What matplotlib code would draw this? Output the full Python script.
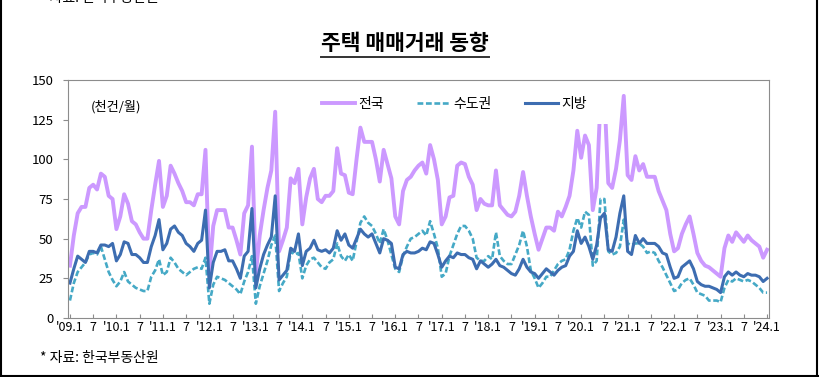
import matplotlib.pyplot as plt
from matplotlib.lines import Line2D
from matplotlib.patches import Rectangle

plt.rcParams['font.family'] = ['Noto Sans CJK KR', 'DejaVu Sans']

# monthly index: 0 = 2009.1 ... 180 = 2024.1 (thousand deals / month)
months = list(range(181))

total = [
    33, 52, 66, 70, 70, 82, 84, 81, 91, 89, 77, 75,       # 2009
    56, 64, 78, 72, 61, 59, 54, 50, 50, 68, 84, 99,       # 2010
    70, 77, 96, 91, 85, 80, 73, 73, 71, 78, 78, 106,      # 2011
    28, 58, 68, 68, 68, 57, 57, 49, 40, 66, 71, 108,      # 2012
    28, 52, 68, 82, 93, 130, 42, 49, 57, 88, 85, 94,      # 2013
    59, 76, 88, 94, 75, 73, 77, 77, 80, 107, 91, 90,      # 2014
    79, 78, 100, 120, 111, 111, 111, 100, 86, 106, 97, 88,  # 2015
    64, 59, 80, 87, 89, 93, 96, 98, 91, 109, 100, 87,     # 2016
    59, 64, 76, 77, 96, 98, 97, 89, 84, 68, 75, 72,       # 2017
    71, 71, 93, 71, 68, 65, 64, 67, 77, 92, 77, 64,       # 2018
    53, 43, 50, 57, 57, 55, 67, 64, 70, 77, 93, 118,      # 2019
    101, 115, 109, 68, 82, 138, 141, 85, 82, 94, 112, 140,  # 2020
    90, 87, 102, 93, 97, 89, 89, 89, 80, 74, 68, 53,      # 2021
    42, 44, 53, 59, 64, 53, 41, 36, 33, 32, 30, 28,       # 2022
    26, 44, 52, 48, 54, 51, 48, 52, 49, 47, 45, 38,       # 2023
    43,                                                   # 2024.1
]

capital = [
    11, 22, 29, 32, 35, 40, 41, 40, 45, 37, 29, 24,
    20, 23, 29, 23, 21, 19, 18, 17, 17, 26, 30, 37,
    27, 29, 38, 35, 31, 29, 27, 29, 31, 32, 31, 38,
    9, 21, 26, 25, 24, 22, 20, 18, 15, 23, 29, 39,
    9, 20, 28, 36, 46, 52, 17, 22, 26, 42, 40, 41,
    25, 33, 37, 38, 35, 32, 31, 35, 37, 47, 39, 36,
    40, 36, 48, 60, 64, 60, 58, 53, 47, 56, 49, 40,
    31, 29, 39, 45, 50, 51, 53, 55, 52, 61, 53, 44,
    26, 28, 39, 46, 53, 58, 58, 55, 50, 38, 36, 36,
    39, 37, 54, 39, 36, 34, 34, 40, 46, 55, 45, 30,
    25, 19, 22, 26, 26, 30, 34, 36, 37, 43, 55, 63,
    57, 67, 65, 33, 36, 75, 75, 42, 40, 41, 45, 62,
    47, 46, 47, 47, 45, 41, 42, 41, 36, 32, 27, 22,
    17, 18, 22, 24, 25, 21, 16, 15, 14, 11, 11, 11,
    10, 19, 24, 23, 25, 24, 23, 24, 23, 21, 19, 16,
    16,
]

local = [
    22, 31, 39, 37, 35, 42, 42, 41, 46, 46, 45, 47,
    36, 40, 48, 47, 40, 40, 38, 35, 35, 45, 52, 62,
    43, 47, 56, 58, 54, 52, 47, 45, 42, 47, 49, 68,
    19, 35, 42, 42, 43, 36, 36, 31, 25, 39, 42, 69,
    19, 31, 40, 46, 51, 77, 24, 27, 30, 44, 42, 53,
    33, 42, 44, 49, 43, 42, 43, 41, 44, 55, 49, 53,
    46, 44, 50, 56, 53, 51, 53, 47, 41, 50, 49, 47,
    32, 31, 40, 42, 41, 41, 42, 44, 43, 48, 47, 40,
    32, 36, 39, 38, 41, 40, 40, 38, 37, 31, 36, 34,
    32, 34, 37, 33, 32, 30, 28, 27, 31, 37, 32, 29,
    28, 25, 28, 31, 29, 27, 30, 32, 33, 39, 42, 55,
    47, 51, 45, 37, 46, 63, 66, 43, 42, 51, 66, 77,
    42, 40, 52, 47, 50, 47, 47, 47, 45, 41, 40, 32,
    25, 26, 32, 34, 36, 31, 23, 21, 20, 20, 19, 18,
    16, 26, 29, 27, 29, 27, 26, 28, 27, 27, 26, 23,
    25,
]

tick_pos = list(range(0, 181, 6))
tick_labels = ["'09.1", "7", "'10.1", "7", "'11.1", "7", "'12.1", "7",
               "'13.1", "7", "'14.1", "7", "'15.1", "7", "'16.1", "7",
               "'17.1", "7", "'18.1", "7", "'19.1", "7", "'20.1", "7",
               "'21.1", "7", "'22.1", "7", "'23.1", "7", "'24.1"]
y_ticks = [0, 25, 50, 75, 100, 125, 150]

fig = plt.figure(figsize=(8.19, 3.77), dpi=100)
ax = fig.add_axes([68 / 819, 59 / 377, 701 / 819, 238 / 377])

ax.plot(months, total, color='#cc99ff', lw=2.8, label='전국', zorder=2)
ax.plot(months, capital, color='#45a9c6', lw=1.9, ls=(0, (2.2, 1.0)),
        label='수도권', zorder=2.1)
ax.plot(months, local, color='#3d6db1', lw=2.2, label='지방', zorder=2.2)

ax.set_xlim(-0.5, 180.5)
ax.set_ylim(0, 150)
ax.set_xticks(tick_pos)
ax.set_xticklabels(tick_labels)
ax.set_yticks(y_ticks)

for s in ax.spines.values():
    s.set_color('#8c8c8c')
    s.set_linewidth(0.8)
ax.tick_params(axis='x', direction='in', length=3, width=0.8,
               color='#8c8c8c', labelsize=9, pad=2)
ax.tick_params(axis='y', direction='out', length=3.5, width=0.8,
               color='#8c8c8c', labelsize=9.5, pad=7)

# legend sits on a white box that hides the 2020 spikes
ax.add_patch(Rectangle((0.352, 0.815), 0.424, 0.168, transform=ax.transAxes,
                       facecolor='white', edgecolor='none', zorder=3))
ax.legend(loc='center', bbox_to_anchor=(0.551, 0.899), ncol=3, frameon=False,
          fontsize=10, handlelength=2.4, columnspacing=2.4, handletextpad=0.2)

ax.text(0.068, 0.887, '(천건/월)', transform=ax.transAxes, ha='center',
        va='center', fontsize=9.5)

title = fig.text(0.4945, (377 - 44) / 377, '주택 매매거래 동향', ha='center',
                 va='center', fontsize=15.5, fontweight='bold')
fig.text(40 / 819, 19 / 377, '* 자료: 한국부동산원', va='center', fontsize=10)
# footnote of the previous page, cut off at the top edge
fig.text(40 / 819, 1 - 2 / 377, '* 자료: 한국부동산원', va='baseline', fontsize=10)

fig.canvas.draw()
bb = title.get_window_extent()
W, H = fig.bbox.width, fig.bbox.height
fig.add_artist(Line2D([bb.x0 / W, bb.x1 / W], [(377 - 57) / 377] * 2,
                      transform=fig.transFigure, color='#333333', lw=1.4))

# outer page frame
for xs, ys in [([0.001, 0.001], [0, 1]), ([0.998, 0.998], [0, 1]),
               ([0, 1], [0.003, 0.003])]:
    fig.add_artist(Line2D(xs, ys, transform=fig.transFigure, color='black', lw=1.5))

fig.savefig('out.png', dpi=100)
